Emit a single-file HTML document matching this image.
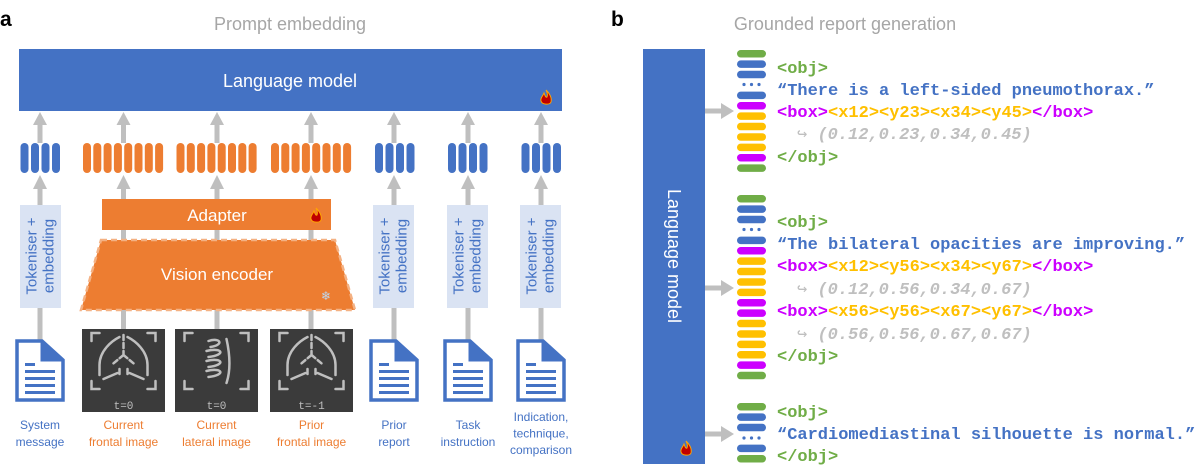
<!DOCTYPE html>
<html><head><meta charset="utf-8"><style>
html,body{margin:0;padding:0;background:#fff;}
svg{display:block;}
.sans{font-family:"Liberation Sans",sans-serif;}
.mono{font-family:"Liberation Mono",monospace;font-weight:bold;font-size:17px;}
</style></head><body>
<svg width="1196" height="474" viewBox="0 0 1196 474" xmlns="http://www.w3.org/2000/svg">
<defs>
  <g id="doc">
    <path d="M-23,-29 H2 L23,-10 V30 H-23 Z" fill="#fff" stroke="#4472C4" stroke-width="3.5"/>
    <path d="M2,-29 V-10 H23" fill="none" stroke="#4472C4" stroke-width="3"/>
    <path d="M2,-29 L23,-10 H2 Z" fill="#4472C4"/>
    <rect x="-15" y="-7" width="10" height="3" fill="#4472C4"/>
    <rect x="-15" y="0" width="30" height="3" fill="#4472C4"/>
    <rect x="-15" y="7" width="30" height="3" fill="#4472C4"/>
    <rect x="-15" y="14" width="30" height="3" fill="#4472C4"/>
    <rect x="-15" y="21" width="30" height="3" fill="#4472C4"/>
  </g>
  <g id="bluetok">
    <rect x="-20" y="0" width="8" height="30" rx="4" fill="#4472C4"/>
    <rect x="-9.5" y="0" width="8" height="30" rx="4" fill="#4472C4"/>
    <rect x="1" y="0" width="8" height="30" rx="4" fill="#4472C4"/>
    <rect x="11.5" y="0" width="8" height="30" rx="4" fill="#4472C4"/>
  </g>
  <g id="orangetok" fill="#ED7D31">
    <rect x="-41" y="0" width="8" height="30" rx="4"/>
    <rect x="-30.7" y="0" width="8" height="30" rx="4"/>
    <rect x="-20.4" y="0" width="8" height="30" rx="4"/>
    <rect x="-10.1" y="0" width="8" height="30" rx="4"/>
    <rect x="0.2" y="0" width="8" height="30" rx="4"/>
    <rect x="10.5" y="0" width="8" height="30" rx="4"/>
    <rect x="20.8" y="0" width="8" height="30" rx="4"/>
    <rect x="31.1" y="0" width="8" height="30" rx="4"/>
  </g>
  <g id="flame">
    <path d="M0,-8 C4,-4 6,0 5,4 C4,7 -4,7 -5,3 C-6,0 -3,-2 -2,-5 C-1,-2 0,0 1,-1 C2,-3 1,-6 0,-8 Z" fill="#C00000" stroke="#FFA500" stroke-width="1"/>
  </g>
  <g id="lungs" fill="none" stroke="#bfbfbf" stroke-width="2.5" stroke-linecap="round">
    <path d="M-32,-26 V-34 H-24 M24,-34 H32 V-26 M32,14 V22 H24 M-24,22 H-32 V14"/>
    <path d="M-4,-30 C-12,-26 -24,-16 -24,-2 L-24,8 M-20,12 L-6,6 M4,-30 C12,-26 24,-16 24,-2 L24,8 M20,12 L6,6"/>
    <path d="M0,-32 V-12 M0,-12 L-12,-2 M0,-12 L12,-2 M-4,2 V10 M4,2 V10" stroke-dasharray="5 3"/>
  </g>
  <g id="lateral" fill="none" stroke="#bfbfbf" stroke-width="2.5" stroke-linecap="round">
    <path d="M-32,-26 V-34 H-24 M24,-34 H32 V-26 M32,14 V22 H24 M-24,22 H-32 V14"/>
    <path d="M-8,-26 C4,-30 8,-22 -6,-20 M-10,-16 C6,-20 10,-12 -8,-10 M-10,-6 C6,-10 10,-2 -8,0 M-10,4 C6,0 10,8 -8,10"/>
    <path d="M10,-28 C14,-10 14,4 10,16"/>
  </g>
</defs>

<!-- Panel a -->
<text x="0" y="26" class="sans" font-size="21" font-weight="bold" fill="#000">a</text>
<text x="290" y="30" class="sans" font-size="18" fill="#a6a6a6" text-anchor="middle">Prompt embedding</text>

<rect x="19" y="49" width="543" height="62" fill="#4472C4"/>
<text x="290" y="87" class="sans" font-size="18" fill="#fff" text-anchor="middle">Language model</text>
<use href="#flame" x="546" y="98"/>

<!-- columns -->
<g fill="#bfbfbf">
  <!-- top arrows -->
  <g id="toparrows">
  <polygon points="33,125 40,112 47,125"/><rect x="37.5" y="124" width="5" height="19"/>
  <polygon points="116.5,125 123.5,112 130.5,125"/><rect x="121" y="124" width="5" height="19"/>
  <polygon points="210,125 217,112 224,125"/><rect x="214.5" y="124" width="5" height="19"/>
  <polygon points="304,125 311,112 318,125"/><rect x="308.5" y="124" width="5" height="19"/>
  <polygon points="387,125 394,112 401,125"/><rect x="391.5" y="124" width="5" height="19"/>
  <polygon points="461,125 468,112 475,125"/><rect x="465.5" y="124" width="5" height="19"/>
  <polygon points="534,125 541,112 548,125"/><rect x="538.5" y="124" width="5" height="19"/>
  </g>
  <!-- lower arrows -->
  <polygon points="33,189 40,175 47,189"/><rect x="37.5" y="188" width="5" height="155"/>
  <polygon points="116.5,189 123.5,175 130.5,189"/><rect x="121" y="188" width="5" height="142"/>
  <polygon points="210,189 217,175 224,189"/><rect x="214.5" y="188" width="5" height="142"/>
  <polygon points="304,189 311,175 318,189"/><rect x="308.5" y="188" width="5" height="142"/>
  <polygon points="387,189 394,175 401,189"/><rect x="391.5" y="188" width="5" height="155"/>
  <polygon points="461,189 468,175 475,189"/><rect x="465.5" y="188" width="5" height="155"/>
  <polygon points="534,189 541,175 548,189"/><rect x="538.5" y="188" width="5" height="155"/>
</g>

<use href="#bluetok" x="40.5" y="143"/>
<use href="#orangetok" x="124" y="143"/>
<use href="#orangetok" x="217.5" y="143"/>
<use href="#orangetok" x="312" y="143"/>
<use href="#bluetok" x="395" y="143"/>
<use href="#bluetok" x="468" y="143"/>
<use href="#bluetok" x="541.5" y="143"/>

<!-- tokeniser boxes -->
<g class="sans" font-size="15" fill="#4472C4">
  <rect x="20" y="205" width="41" height="103" fill="#DAE3F3"/>
  <text transform="translate(40.5,256) rotate(-90)" text-anchor="middle"><tspan x="0" y="-4">Tokeniser +</tspan><tspan x="0" y="13">embedding</tspan></text>
  <rect x="373" y="205" width="41" height="103" fill="#DAE3F3"/>
  <text transform="translate(393.5,256) rotate(-90)" text-anchor="middle"><tspan x="0" y="-4">Tokeniser +</tspan><tspan x="0" y="13">embedding</tspan></text>
  <rect x="447" y="205" width="41" height="103" fill="#DAE3F3"/>
  <text transform="translate(467.5,256) rotate(-90)" text-anchor="middle"><tspan x="0" y="-4">Tokeniser +</tspan><tspan x="0" y="13">embedding</tspan></text>
  <rect x="520" y="205" width="41" height="103" fill="#DAE3F3"/>
  <text transform="translate(540.5,256) rotate(-90)" text-anchor="middle"><tspan x="0" y="-4">Tokeniser +</tspan><tspan x="0" y="13">embedding</tspan></text>
</g>

<!-- adapter & encoder -->
<rect x="102" y="199" width="229" height="31" fill="#ED7D31"/>
<text x="217" y="221" class="sans" font-size="17" fill="#fff" text-anchor="middle">Adapter</text>
<use href="#flame" x="316" y="216"/>
<polygon points="101,240 335,240 355,310 81,310" fill="#ED7D31" stroke="#F4B183" stroke-width="2.5" stroke-dasharray="6 4"/>
<text x="217" y="280" class="sans" font-size="17" fill="#fff" text-anchor="middle">Vision encoder</text>
<text x="326" y="300" font-size="12" fill="#BDD7EE" text-anchor="middle" font-family="DejaVu Sans">❄</text>

<!-- images -->
<rect x="82" y="329" width="83" height="83" fill="#3b3b3b"/>
<use href="#lungs" x="123.5" y="367"/>
<text x="123.5" y="409" font-family="Liberation Mono,monospace" font-size="11" fill="#bfbfbf" text-anchor="middle">t=0</text>
<rect x="175" y="329" width="83" height="83" fill="#3b3b3b"/>
<use href="#lateral" x="216.5" y="367"/>
<text x="216.5" y="409" font-family="Liberation Mono,monospace" font-size="11" fill="#bfbfbf" text-anchor="middle">t=0</text>
<rect x="270" y="329" width="83" height="83" fill="#3b3b3b"/>
<use href="#lungs" x="311.5" y="367"/>
<text x="311.5" y="409" font-family="Liberation Mono,monospace" font-size="11" fill="#bfbfbf" text-anchor="middle">t=-1</text>

<!-- docs -->
<use href="#doc" x="40" y="370"/>
<use href="#doc" x="394" y="370"/>
<use href="#doc" x="468" y="370"/>
<use href="#doc" x="541" y="370"/>

<!-- labels -->
<g class="sans" font-size="12" text-anchor="middle">
  <text x="40" y="429" fill="#4472C4"><tspan x="40">System</tspan><tspan x="40" dy="17">message</tspan></text>
  <text x="123.5" y="429" fill="#ED7D31"><tspan x="123.5">Current</tspan><tspan x="123.5" dy="17">frontal image</tspan></text>
  <text x="216.5" y="429" fill="#ED7D31"><tspan x="216.5">Current</tspan><tspan x="216.5" dy="17">lateral image</tspan></text>
  <text x="311.5" y="429" fill="#ED7D31"><tspan x="311.5">Prior</tspan><tspan x="311.5" dy="17">frontal image</tspan></text>
  <text x="394" y="429" fill="#4472C4"><tspan x="394">Prior</tspan><tspan x="394" dy="17">report</tspan></text>
  <text x="468" y="429" fill="#4472C4"><tspan x="468">Task</tspan><tspan x="468" dy="17">instruction</tspan></text>
  <text x="541" y="421" fill="#4472C4"><tspan x="541">Indication,</tspan><tspan x="541" dy="16.5">technique,</tspan><tspan x="541" dy="16.5">comparison</tspan></text>
</g>

<!-- Panel b -->
<text x="611" y="26" class="sans" font-size="21" font-weight="bold" fill="#000">b</text>
<text x="845" y="30" class="sans" font-size="18" fill="#a6a6a6" text-anchor="middle">Grounded report generation</text>

<rect x="643" y="49" width="62" height="415" fill="#4472C4"/>
<text transform="translate(674,256) rotate(90)" class="sans" font-size="18" fill="#fff" text-anchor="middle" dy="6">Language model</text>
<use href="#flame" x="686" y="449"/>

<g fill="#bfbfbf">
  <rect x="705" y="108.5" width="17" height="5"/><polygon points="721,103 734,111 721,119"/>
  <rect x="705" y="285.5" width="17" height="5"/><polygon points="721,280 734,288 721,296"/>
  <rect x="705" y="431.5" width="17" height="5"/><polygon points="721,426 734,434 721,442"/>
</g>

<!-- stack 1 -->
<g>
  <rect x="737" y="50" width="29" height="7.5" rx="3.75" fill="#70AD47"/>
  <rect x="737" y="60.4" width="29" height="7.5" rx="3.75" fill="#4472C4"/>
  <rect x="737" y="70.8" width="29" height="7.5" rx="3.75" fill="#4472C4"/>
  <g fill="#4472C4"><circle cx="744" cy="84.5" r="1.6"/><circle cx="751.5" cy="84.5" r="1.6"/><circle cx="759" cy="84.5" r="1.6"/></g>
  <rect x="737" y="91.6" width="29" height="7.5" rx="3.75" fill="#4472C4"/>
  <rect x="737" y="102" width="29" height="7.5" rx="3.75" fill="#CC00FF"/>
  <rect x="737" y="112.4" width="29" height="7.5" rx="3.75" fill="#FFC000"/>
  <rect x="737" y="122.8" width="29" height="7.5" rx="3.75" fill="#FFC000"/>
  <rect x="737" y="133.2" width="29" height="7.5" rx="3.75" fill="#FFC000"/>
  <rect x="737" y="143.6" width="29" height="7.5" rx="3.75" fill="#FFC000"/>
  <rect x="737" y="154" width="29" height="7.5" rx="3.75" fill="#CC00FF"/>
  <rect x="737" y="164.4" width="29" height="7.5" rx="3.75" fill="#70AD47"/>
</g>
<g class="mono">
  <text x="777" y="73" fill="#70AD47">&lt;obj&gt;</text>
  <text x="777" y="95" fill="#4472C4">“There is a left-sided pneumothorax.”</text>
  <text x="777" y="117"><tspan fill="#CC00FF">&lt;box&gt;</tspan><tspan fill="#FFC000">&lt;x12&gt;&lt;y23&gt;&lt;x34&gt;&lt;y45&gt;</tspan><tspan fill="#CC00FF">&lt;/box&gt;</tspan></text>
  <text x="797" y="139" fill="#bfbfbf"><tspan font-weight="normal">↪</tspan> <tspan font-style="italic">(0.12,0.23,0.34,0.45)</tspan></text>
  <text x="777" y="162" fill="#70AD47">&lt;/obj&gt;</text>
</g>

<!-- stack 2 -->
<g>
  <rect x="737" y="195" width="29" height="7.5" rx="3.75" fill="#70AD47"/>
  <rect x="737" y="205.4" width="29" height="7.5" rx="3.75" fill="#4472C4"/>
  <rect x="737" y="215.8" width="29" height="7.5" rx="3.75" fill="#4472C4"/>
  <g fill="#4472C4"><circle cx="744" cy="229.5" r="1.6"/><circle cx="751.5" cy="229.5" r="1.6"/><circle cx="759" cy="229.5" r="1.6"/></g>
  <rect x="737" y="236.6" width="29" height="7.5" rx="3.75" fill="#4472C4"/>
  <rect x="737" y="247" width="29" height="7.5" rx="3.75" fill="#CC00FF"/>
  <rect x="737" y="257.4" width="29" height="7.5" rx="3.75" fill="#FFC000"/>
  <rect x="737" y="267.8" width="29" height="7.5" rx="3.75" fill="#FFC000"/>
  <rect x="737" y="278.2" width="29" height="7.5" rx="3.75" fill="#FFC000"/>
  <rect x="737" y="288.6" width="29" height="7.5" rx="3.75" fill="#FFC000"/>
  <rect x="737" y="299" width="29" height="7.5" rx="3.75" fill="#CC00FF"/>
  <rect x="737" y="309.4" width="29" height="7.5" rx="3.75" fill="#CC00FF"/>
  <rect x="737" y="319.8" width="29" height="7.5" rx="3.75" fill="#FFC000"/>
  <rect x="737" y="330.2" width="29" height="7.5" rx="3.75" fill="#FFC000"/>
  <rect x="737" y="340.6" width="29" height="7.5" rx="3.75" fill="#FFC000"/>
  <rect x="737" y="351" width="29" height="7.5" rx="3.75" fill="#FFC000"/>
  <rect x="737" y="361.4" width="29" height="7.5" rx="3.75" fill="#CC00FF"/>
  <rect x="737" y="371.8" width="29" height="7.5" rx="3.75" fill="#70AD47"/>
</g>
<g class="mono">
  <text x="777" y="227" fill="#70AD47">&lt;obj&gt;</text>
  <text x="777" y="249" fill="#4472C4">“The bilateral opacities are improving.”</text>
  <text x="777" y="271"><tspan fill="#CC00FF">&lt;box&gt;</tspan><tspan fill="#FFC000">&lt;x12&gt;&lt;y56&gt;&lt;x34&gt;&lt;y67&gt;</tspan><tspan fill="#CC00FF">&lt;/box&gt;</tspan></text>
  <text x="797" y="294" fill="#bfbfbf"><tspan font-weight="normal">↪</tspan> <tspan font-style="italic">(0.12,0.56,0.34,0.67)</tspan></text>
  <text x="777" y="316"><tspan fill="#CC00FF">&lt;box&gt;</tspan><tspan fill="#FFC000">&lt;x56&gt;&lt;y56&gt;&lt;x67&gt;&lt;y67&gt;</tspan><tspan fill="#CC00FF">&lt;/box&gt;</tspan></text>
  <text x="797" y="339" fill="#bfbfbf"><tspan font-weight="normal">↪</tspan> <tspan font-style="italic">(0.56,0.56,0.67,0.67)</tspan></text>
  <text x="777" y="361" fill="#70AD47">&lt;/obj&gt;</text>
</g>

<!-- stack 3 -->
<g>
  <rect x="737" y="403" width="29" height="7.5" rx="3.75" fill="#70AD47"/>
  <rect x="737" y="413.4" width="29" height="7.5" rx="3.75" fill="#4472C4"/>
  <rect x="737" y="423.8" width="29" height="7.5" rx="3.75" fill="#4472C4"/>
  <g fill="#4472C4"><circle cx="744" cy="438" r="1.6"/><circle cx="751.5" cy="438" r="1.6"/><circle cx="759" cy="438" r="1.6"/></g>
  <rect x="737" y="444.6" width="29" height="7.5" rx="3.75" fill="#4472C4"/>
  <rect x="737" y="455" width="29" height="7.5" rx="3.75" fill="#70AD47"/>
</g>
<g class="mono">
  <text x="777" y="417" fill="#70AD47">&lt;obj&gt;</text>
  <text x="777" y="439" fill="#4472C4">“Cardiomediastinal silhouette is normal.”</text>
  <text x="777" y="461" fill="#70AD47">&lt;/obj&gt;</text>
</g>
</svg>
</body></html>
